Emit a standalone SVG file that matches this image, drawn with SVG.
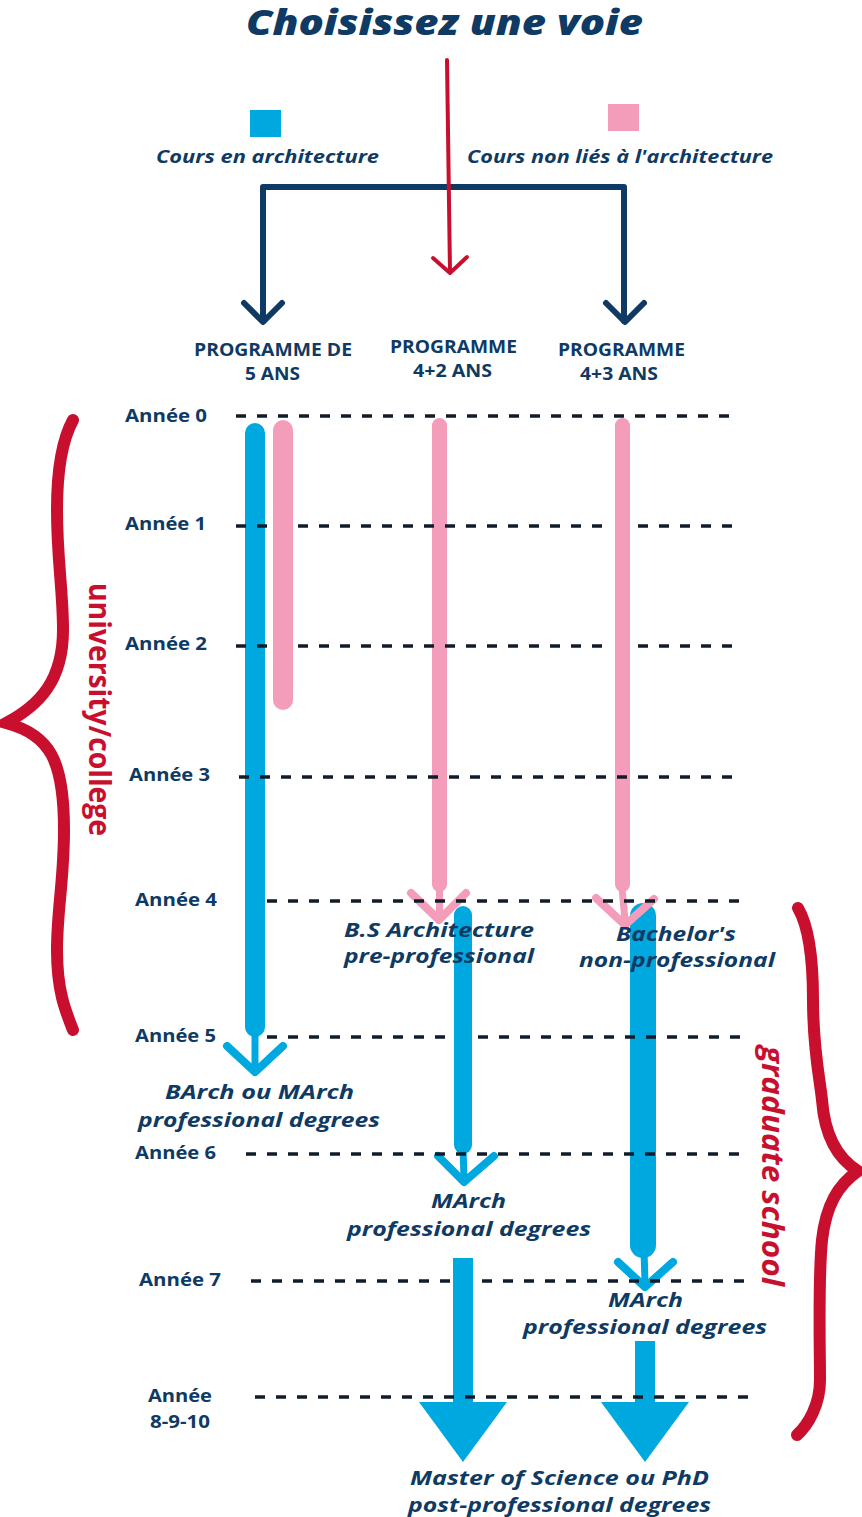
<svg xmlns="http://www.w3.org/2000/svg" width="862" height="1517" viewBox="0 0 862 1517">
<style>
  .title { font-family: "Open Sans", "Liberation Sans", sans-serif; font-weight: 800; font-style: italic; font-size: 35px; fill: #0e3a63; }
  .legend { font-family: "Open Sans", "Liberation Sans", sans-serif; font-weight: 700; font-style: italic; font-size: 17.5px; fill: #0e3a63; }
  .prog { font-family: "Open Sans", "Liberation Sans", sans-serif; font-weight: 700; font-size: 17px; fill: #0e3a63; }
  .year { font-family: "Open Sans", "Liberation Sans", sans-serif; font-weight: 700; font-size: 18px; fill: #0e3a63; }
  .deg { font-family: "Open Sans", "Liberation Sans", sans-serif; font-weight: 700; font-style: italic; font-size: 19px; fill: #0e3a63; }
  .side { font-family: "Open Sans", "Liberation Sans", sans-serif; font-weight: 700; font-size: 30px; fill: #c8102e; }
  .sideit { font-family: "Open Sans", "Liberation Sans", sans-serif; font-weight: 700; font-style: italic; font-size: 30px; fill: #c8102e; }
  .dash { stroke: #111c2b; stroke-width: 3.5; stroke-dasharray: 10 11; fill: none; }
  .brace { stroke: #c8102e; stroke-width: 12; fill: none; stroke-linecap: round; stroke-linejoin: miter; }
  .blue { fill: #00a8e0; }
  .pink { fill: #f49dbb; }
  .chevB { stroke: #00a8e0; stroke-width: 8; fill: none; stroke-linecap: round; stroke-linejoin: round; }
  .chevP { stroke: #f49dbb; stroke-width: 8; fill: none; stroke-linecap: round; stroke-linejoin: round; }
  .stemB { stroke: #00a8e0; stroke-width: 7; }
  .stemP { stroke: #f49dbb; stroke-width: 7; }
  .navyline { stroke: #0e3a63; stroke-width: 6; fill: none; stroke-linecap: round; stroke-linejoin: round; }
  .redline { stroke: #c8102e; stroke-width: 4; fill: none; stroke-linecap: round; stroke-linejoin: round; }
</style>
<rect width="862" height="1517" fill="#ffffff"/>

<g id="title">
  <text class="title" x="246" y="35" textLength="397" lengthAdjust="spacingAndGlyphs">Choisissez une voie</text>
</g>

<g id="legend-architecture">
  <rect class="blue" x="250" y="110" width="31" height="27"/>
  <text class="legend" x="156" y="163" textLength="223" lengthAdjust="spacingAndGlyphs">Cours en architecture</text>
</g>
<g id="legend-non-architecture">
  <rect class="pink" x="608" y="104" width="31" height="27"/>
  <text class="legend" x="467" y="163" textLength="306" lengthAdjust="spacingAndGlyphs">Cours non liés à l'architecture</text>
</g>

<g id="connectors">
  <path class="navyline" d="M263,321 V187 H624 V321"/>
  <path class="navyline" d="M244,303 L263,322 L282,303"/>
  <path class="navyline" d="M606,303 L625,322 L644,303"/>
  <path class="redline" d="M447,60 L450,272"/>
  <path class="redline" d="M433,258 L450,273 L467,257"/>
</g>

<g id="prog-5">
  <text class="prog" x="194" y="356" textLength="158" lengthAdjust="spacingAndGlyphs">PROGRAMME DE</text>
  <text class="prog" x="245" y="380" textLength="55" lengthAdjust="spacingAndGlyphs">5 ANS</text>
</g>
<g id="prog-4-2">
  <text class="prog" x="390" y="353" textLength="127" lengthAdjust="spacingAndGlyphs">PROGRAMME</text>
  <text class="prog" x="413" y="377" textLength="79" lengthAdjust="spacingAndGlyphs">4+2 ANS</text>
</g>
<g id="prog-4-3">
  <text class="prog" x="558" y="356" textLength="127" lengthAdjust="spacingAndGlyphs">PROGRAMME</text>
  <text class="prog" x="580" y="380" textLength="78" lengthAdjust="spacingAndGlyphs">4+3 ANS</text>
</g>

<g id="years">
  <text class="year" x="125" y="422" textLength="82" lengthAdjust="spacingAndGlyphs">Année 0</text>
  <text class="year" x="125" y="530" textLength="81" lengthAdjust="spacingAndGlyphs">Année 1</text>
  <text class="year" x="125" y="650" textLength="82" lengthAdjust="spacingAndGlyphs">Année 2</text>
  <text class="year" x="129" y="781" textLength="81" lengthAdjust="spacingAndGlyphs">Année 3</text>
  <text class="year" x="135" y="906" textLength="82" lengthAdjust="spacingAndGlyphs">Année 4</text>
  <text class="year" x="135" y="1042" textLength="81" lengthAdjust="spacingAndGlyphs">Année 5</text>
  <text class="year" x="135" y="1159" textLength="81" lengthAdjust="spacingAndGlyphs">Année 6</text>
  <text class="year" x="139" y="1286" textLength="82" lengthAdjust="spacingAndGlyphs">Année 7</text>
  <text class="year" x="148" y="1402" textLength="64" lengthAdjust="spacingAndGlyphs">Année</text>
  <text class="year" x="150" y="1428" textLength="60" lengthAdjust="spacingAndGlyphs">8-9-10</text>
</g>

<g id="track-5ans">
  <rect class="blue" x="245" y="423" width="20" height="614" rx="10"/>
  <rect class="pink" x="273" y="420" width="20" height="290" rx="10"/>
  <line class="stemB" x1="255" y1="1030" x2="255" y2="1068"/>
  <path class="chevB" d="M227,1046 L255,1072 L283,1046"/>
</g>

<g id="track-4-2">
  <rect class="blue" x="454" y="906" width="18" height="248" rx="9"/>
  <line class="stemB" x1="463" y1="1148" x2="464" y2="1178"/>
  <path class="chevB" d="M438,1156 L464,1182 L494,1156"/>
  <rect class="pink" x="432" y="418" width="15" height="474" rx="7.5"/>
  <line class="stemP" x1="439.5" y1="888" x2="439.5" y2="916"/>
  <path class="chevP" d="M411,893 L439,920 L466,893"/>
  <rect class="blue" x="453" y="1258" width="20" height="146"/>
  <polygon class="blue" points="419,1402 507,1402 463,1462"/>
</g>

<g id="track-4-3">
  <rect class="blue" x="630" y="903" width="26" height="355" rx="13"/>
  <line class="stemB" x1="644" y1="1250" x2="645" y2="1282"/>
  <path class="chevB" d="M618,1262 L645,1287 L673,1262"/>
  <rect class="pink" x="615" y="418" width="15" height="474" rx="7.5"/>
  <line class="stemP" x1="622" y1="888" x2="625" y2="920"/>
  <path class="chevP" d="M596,898 L625,925 L654,899"/>
  <rect class="blue" x="635" y="1341" width="20" height="63"/>
  <polygon class="blue" points="601,1402 689,1402 645,1462"/>
</g>

<g id="year-lines">
  <line class="dash" x1="236" y1="416" x2="732" y2="416"/>
  <line class="dash" x1="236" y1="526" x2="267" y2="526"/>
  <line class="dash" x1="298" y1="526" x2="607" y2="526"/>
  <line class="dash" x1="638" y1="526" x2="732" y2="526"/>
  <line class="dash" x1="236" y1="646" x2="267" y2="646"/>
  <line class="dash" x1="298" y1="646" x2="607" y2="646"/>
  <line class="dash" x1="638" y1="646" x2="732" y2="646"/>
  <line class="dash" x1="239" y1="777" x2="736" y2="777"/>
  <line class="dash" x1="267" y1="901" x2="741" y2="901"/>
  <line class="dash" x1="267" y1="1037" x2="446" y2="1037"/>
  <line class="dash" x1="478" y1="1037" x2="741" y2="1037"/>
  <line class="dash" x1="246" y1="1154" x2="740" y2="1154"/>
  <line class="dash" x1="251" y1="1281" x2="453" y2="1281"/>
  <line class="dash" x1="482" y1="1281" x2="745" y2="1281"/>
  <line class="dash" x1="255" y1="1397" x2="750" y2="1397"/>
</g>

<g id="deg-bs">
  <text class="deg" x="344" y="937" textLength="190" lengthAdjust="spacingAndGlyphs">B.S Architecture</text>
  <text class="deg" x="344" y="963" textLength="190" lengthAdjust="spacingAndGlyphs">pre-professional</text>
</g>
<g id="deg-bachelor">
  <text class="deg" x="616" y="941" textLength="120" lengthAdjust="spacingAndGlyphs">Bachelor's</text>
  <text class="deg" x="579" y="967" textLength="196" lengthAdjust="spacingAndGlyphs">non-professional</text>
</g>
<g id="deg-barch">
  <text class="deg" x="165" y="1099" textLength="189" lengthAdjust="spacingAndGlyphs">BArch ou MArch</text>
  <text class="deg" x="138" y="1127" textLength="242" lengthAdjust="spacingAndGlyphs">professional degrees</text>
</g>
<g id="deg-march-2">
  <text class="deg" x="431" y="1208" textLength="75" lengthAdjust="spacingAndGlyphs">MArch</text>
  <text class="deg" x="347" y="1236" textLength="244" lengthAdjust="spacingAndGlyphs">professional degrees</text>
</g>
<g id="deg-march-3">
  <text class="deg" x="608" y="1307" textLength="75" lengthAdjust="spacingAndGlyphs">MArch</text>
  <text class="deg" x="523" y="1334" textLength="244" lengthAdjust="spacingAndGlyphs">professional degrees</text>
</g>
<g id="deg-post">
  <text class="deg" x="410" y="1485" textLength="299" lengthAdjust="spacingAndGlyphs">Master of Science ou PhD</text>
  <text class="deg" x="408" y="1512" textLength="303" lengthAdjust="spacingAndGlyphs">post-professional degrees</text>
</g>

<g id="brace-university">
  <path class="brace" d="M73,420 C62,440 57,470 57,510 C57,560 63,590 63,630 C63,680 40,705 6,723 C50,735 64,760 64,830 C64,880 57,910 57,950 C57,990 65,1010 73,1030"/>
  <text class="side" transform="translate(89,583) rotate(90)" textLength="253" lengthAdjust="spacingAndGlyphs">university/college</text>
</g>
<g id="brace-graduate">
  <path class="brace" d="M798,908 C808,925 813,955 813,1000 C813,1050 820,1080 822,1100 C825,1140 840,1160 858,1171 C838,1185 826,1205 822,1240 C818,1280 820,1350 820,1380 C820,1405 808,1425 797,1435"/>
  <text class="sideit" transform="translate(762,1046) rotate(90)" textLength="240" lengthAdjust="spacingAndGlyphs">graduate school</text>
</g>
</svg>
